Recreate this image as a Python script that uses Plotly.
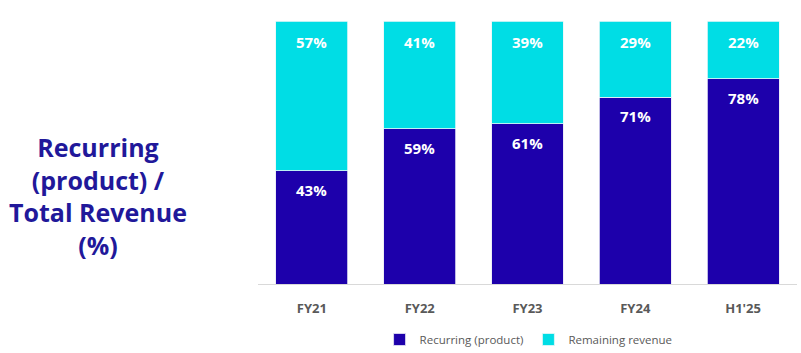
import plotly.graph_objects as go

categories = ["FY21", "FY22", "FY23", "FY24", "H1'25"]
recurring = [43, 59, 61, 71, 78]
remaining = [57, 41, 39, 29, 22]
series_names = ["Recurring (product)", "Remaining revenue"]
title_text = "Recurring<br>(product) /<br>Total Revenue<br>(%)"

DARK = "#1D00AB"
CYAN = "#00DDE5"
FONT = "Open Sans"

fig = go.Figure()
fig.add_trace(go.Bar(x=categories, y=recurring, name=series_names[0],
                     marker=dict(color=DARK, line=dict(color="#E8E8F5", width=0.8))))
fig.add_trace(go.Bar(x=categories, y=remaining, name=series_names[1],
                     marker=dict(color=CYAN, line=dict(color="#E8F8F8", width=0.8))))

annotations = []
for c, r, m in zip(categories, recurring, remaining):
    annotations.append(dict(x=c, y=r, xref="x", yref="y", text=f"<b>{r}%</b>",
                            showarrow=False, yshift=-19, yanchor="middle",
                            font=dict(family=FONT, size=15, color="white")))
    annotations.append(dict(x=c, y=r + m, xref="x", yref="y", text=f"<b>{m}%</b>",
                            showarrow=False, yshift=-21, yanchor="middle",
                            font=dict(family=FONT, size=15, color="white")))
annotations.append(dict(x=-0.2963, y=0.335, xref="paper", yref="paper",
                        text=f"<b>{title_text}</b>", showarrow=False,
                        xanchor="center", yanchor="middle", align="center",
                        font=dict(family=FONT, size=25, color="#21189A")))

fig.update_layout(
    barmode="stack",
    bargap=0.333,
    width=801, height=353,
    margin=dict(l=257.5, r=3.5, t=20.7, b=68.7, pad=0, autoexpand=False),
    plot_bgcolor="white", paper_bgcolor="white",
    font=dict(family=FONT, color="#595959"),
    annotations=annotations,
    showlegend=True,
    legend=dict(orientation="h", x=0.502, xanchor="center", y=-0.211, yanchor="middle",
                font=dict(family=FONT, size=11.5, color="#595959"),
                traceorder="normal", itemwidth=30),
    xaxis=dict(showline=True, linecolor="#D9D9D9", linewidth=1, showgrid=False,
               automargin=False,
               ticks="outside", ticklen=12, tickcolor="rgba(0,0,0,0)",
               tickfont=dict(family=FONT, size=13, color="#595959", weight="bold")),
    yaxis=dict(range=[0, 100], visible=False, showgrid=False, fixedrange=True,
               automargin=False),
)

fig.write_html("out.html")
